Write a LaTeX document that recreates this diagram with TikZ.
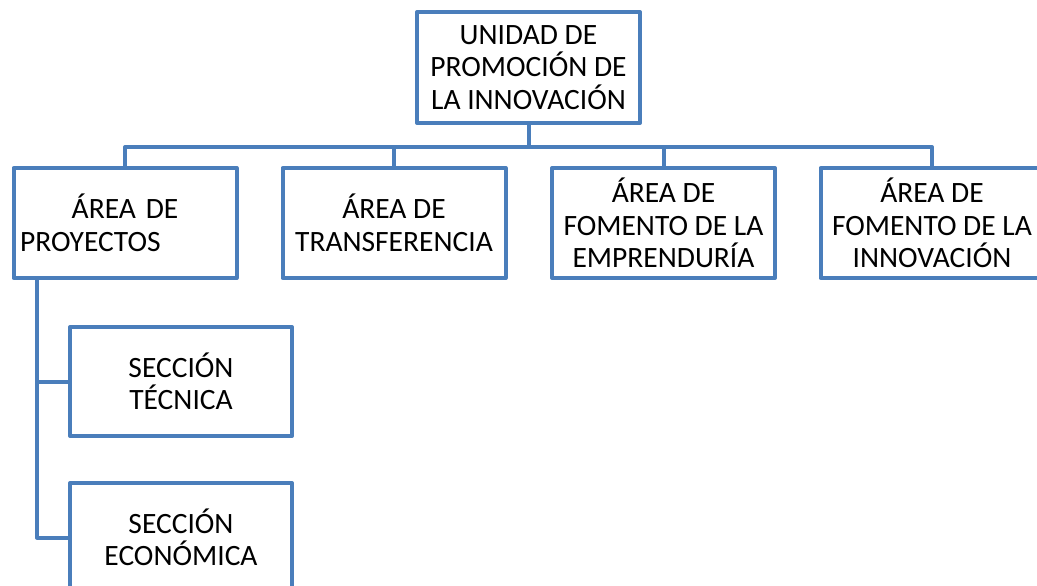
\documentclass[tikz,border=0pt]{standalone}
\usepackage{xcolor}
\usepackage{fontspec}
\setmainfont{Carlito}
\usepackage{tikz}
\usetikzlibrary{positioning, calc}
\definecolor{orgblue}{RGB}{74,126,187}

\begin{document}
\begin{tikzpicture}[x=1pt, y=-1pt, line width=4pt, line join=round,
			every node/.style={draw=orgblue, fill=white, inner sep=0pt, align=center, font=\fontsize{29.5}{32.5}\selectfont},
			unitbox/.style={minimum width=223pt, minimum height=110pt}]
			\clip (0,0) rectangle (1037,586);
			\pgfmathsetmacro{\busy}{147}
			\node[unitbox, minimum height=111pt] (unidad) at (528.5,67.5) {UNIDAD DE\\PROMOCIÓN DE\\LA INNOVACIÓN};
			\node[unitbox, text width=210pt, align=left] (proyectos) at (125,223) {\makebox[210pt]{ÁREA DE}\\PROYECTOS};
			\node[unitbox] (transferencia) at (394,223) {ÁREA DE\\TRANSFERENCIA};
			\node[unitbox] (emprenduria) at (663.5,223) {ÁREA DE\\FOMENTO DE LA\\EMPRENDURÍA};
			\node[unitbox] (innovacion) at (932,223) {ÁREA DE\\FOMENTO DE LA\\INNOVACIÓN};
			\node[unitbox, minimum width=222pt, minimum height=109pt] (tecnica) at (181,381.5) {SECCIÓN\\TÉCNICA};
			\node[unitbox, minimum width=222pt, minimum height=109pt] (economica) at (181,537.5) {SECCIÓN\\ECONÓMICA};
			\coordinate (bus) at (528.5,\busy);
			\coordinate (spine) at (37,278);
			%% connectors
			\draw[orgblue] (unidad.south) -- (bus);
			\draw[orgblue] (proyectos.north) -- (proyectos.north |- bus) -| (innovacion.north);
			\draw[orgblue] (transferencia.north) -- (transferencia.north |- bus);
			\draw[orgblue] (emprenduria.north) -- (emprenduria.north |- bus);
			\draw[orgblue] (spine) |- (economica.west);
			\draw[orgblue] (spine |- tecnica.west) -- (tecnica.west);
			\end{tikzpicture}
\end{document}
